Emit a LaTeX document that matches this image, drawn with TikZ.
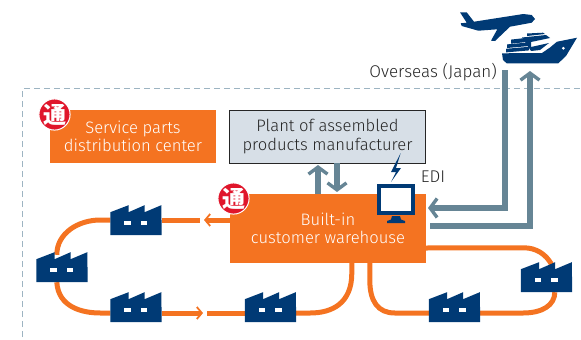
\documentclass[tikz,border=0pt]{standalone}
\usepackage{fontspec}
\setmainfont{Fira Sans Light}
\newfontfamily\cjk{Noto Sans CJK JP}
\usepackage{xcolor}
\usetikzlibrary{positioning,calc,arrows.meta,backgrounds}
\definecolor{orangebox}{HTML}{F47321}
\definecolor{navy}{HTML}{003A75}
\definecolor{steel}{HTML}{668595}
\definecolor{dashblue}{HTML}{9DB4C2}
\definecolor{plantgray}{HTML}{D7DFE7}
\definecolor{stampred}{HTML}{E0162B}
\definecolor{inkgray}{HTML}{262626}
\tikzset{
    orangeline/.style={draw=orangebox, line width=5pt},
    orangearrow/.style={orangeline, -{Straight Barb[length=5pt,width=12pt,line width=1.8pt]}},
    steelarrow/.style={draw=steel, line width=6.5pt, -{Straight Barb[length=7pt,width=19pt,line width=3.4pt]}},
    orangebox/.style={rectangle, fill=orangebox, text=white, align=center, inner sep=0pt, font=\fontsize{16.6}{18.5}\selectfont},
    plantbox/.style={rectangle, fill=plantgray, draw=inkgray, line width=.8pt, text=inkgray, align=center, inner sep=0pt, font=\fontsize{16.6}{18.5}\selectfont},
    labeltext/.style={text=inkgray, inner sep=0pt, font=\fontsize{17}{20}\selectfont},
    stamp/.style={circle, fill=stampred, draw=white, line width=1pt, minimum size=31pt, inner sep=0pt, text=white, font=\cjk\bfseries\fontsize{23}{23}\selectfont},
    factorybox/.style={rectangle, minimum width=51pt, minimum height=30pt, inner sep=0pt}
}
\newcommand{\factory}[2]{%
    \node[factorybox] (#1) at (#2) {};
    \fill[navy] (#1.south west) -- ++(0,-23) -- ++(18.3,-7) -- ++(0,7) -- ++(16,-7) -- ++(0,7) -- ++(16.7,-7) -- (#1.south east) -- cycle;
    \fill[white] ($(#1.south west)+(13.7,-10.3)$) rectangle ++(6.6,-4.4);
    \fill[white] ($(#1.south west)+(30.3,-10.3)$) rectangle ++(6.6,-4.4);
}
\begin{document}
\begin{tikzpicture}[x=1pt,y=-1pt]
\useasboundingbox (0,0) rectangle (581,340);

\node[orangebox, minimum width=166pt, minimum height=53pt] (service) at (133,136.5) {Service parts\\distribution center};
\node[plantbox, minimum width=196pt, minimum height=53pt] (plant) at (327.5,136.5) {Plant of assembled\\products manufacturer};
\node[orangebox, minimum width=196pt, minimum height=69pt] (warehouse) at (328,228.5) {Built-in\\customer warehouse};
\node[stamp] (stampa) at (54.5,114.5) {通};
\node[stamp] (stampb) at (233.5,198.5) {通};
\node[labeltext, anchor=east] (overseas) at (497,72) {Overseas (Japan)};
\node[labeltext] (edi) at (433,177) {EDI};

\factory{fa}{136,220}
\factory{fb}{62,267}
\factory{fc}{136,307}
\factory{fd}{270.5,307}
\factory{fe}{454.5,307}
\factory{ff}{546.5,277}

\coordinate (topgap) at (200,220);
\coordinate (toptip) at (204,220);
\coordinate (lowtip) at (203,313);
\coordinate (lowgap) at (207,313);
\coordinate (portout) at (505,70);
\coordinate (portin) at (530,71);
\coordinate (whin) at (428,208);
\coordinate (whout) at (430,226);

\begin{scope}[on background layer]
\draw[dashblue, line width=1.5pt, dash pattern=on 6pt off 4pt] (22.5,337) -- (22.5,88.5) -- (581,88.5);
%left loop
\draw[orangearrow] (warehouse.west |- toptip) -- (toptip);
\draw[orangeline] (fa.east |- topgap) -- (topgap);
\draw[orangeline] (fa.west |- topgap) -- ++(-10,0) to[out=180,in=90] ($(fb.north west)+(20.5,3)$);
\draw[orangeline] ($(fb.south west)+(20.5,0)$) .. controls ($(fb.south west)+(22,25)$) and ($(fc.west |- lowtip)+(-28,0)$) .. ($(fc.west |- lowtip)+(-10,0)$) -- (fc.west |- lowtip);
\draw[orangearrow] (fc.east |- lowtip) -- (lowtip);
\draw[orangeline] (lowgap) -- (fd.west |- lowgap);
\draw[orangeline] (fd.east |- lowgap) -- ++(14,0) .. controls ($(fd.east |- lowgap)+(36,0)$) and ($(warehouse.south west)+(122,40)$) .. ($(warehouse.south west)+(122,10)$) -- ($(warehouse.south west)+(122,0)$);
%right loop
\draw[orangeline] ($(warehouse.south west)+(140,0)$) -- ++(0,17) .. controls ($(warehouse.south west)+(140,38)$) and ($(fe.west |- lowgap)+(-51,0)$) .. ($(fe.west |- lowgap)+(-34,0)$) -- (fe.west |- lowgap);
\draw[orangeline] (fe.east |- lowgap) -- ++(43,0) .. controls ($(fe.east |- lowgap)+(62,0)$) and ($(ff.south west)+(34,13)$) .. ($(ff.south west)+(34,0)$);
\draw[orangeline] ($(ff.north west)+(31,3)$) .. controls ($(ff.north west)+(25,-8)$) and ($(ff.north west)+(15,-14)$) .. ($(ff.north west)+(3,-14)$) -- ($(warehouse.east)+(0,19.5)$);
\end{scope}

%grey arrows
\draw[steelarrow] (portout) |- (whin);
\draw[steelarrow] (whout) -| (portin);
\draw[steelarrow] (warehouse.north -| 318,0) -- (318,165);
\draw[steelarrow] (plant.south -| 337,0) -- (337,192);

%monitor
\node[rectangle, draw=navy, fill=white, line width=4pt, minimum width=34pt, minimum height=27pt, inner sep=0pt] (screen) at (395.7,199.3) {};
\fill[navy] (392,216) -- (400,216) -- (401,219.5) -- (405,221) -- (405,223) -- (387,223) -- (387,221) -- (391,219.5) -- cycle;
\fill[navy] (400.7,153) -- (391,172) -- (396,172) -- (391,182) -- (401,168) -- (396,168) -- cycle;

%plane
\fill[navy] (460,12.3) -- (466.7,12.3) -- (474,21.7) -- (523.3,14) -- (531.7,15) -- (535,19) -- (531.7,22.7) -- (510,26.7) -- (495,41) -- (491,40.7) -- (497.3,29.3) -- (478.3,30.7) -- (461.7,26) -- (460.7,23.3) -- (466.7,22.7) -- cycle;
%ship
\fill[navy] (502,53.3) -- (542,53) -- (550,47.5) -- (557,41.7) -- (577,37.7) -- (566,56) -- (558.3,63.3) -- (506.7,63.3) -- (503,60) -- cycle;
\fill[white] (563.3,48.3) circle (1.5);
\fill[navy] (506,52.4) -- (529,50.4) -- (529,46.8) -- (506,48.8) -- cycle;
\fill[navy] (507,48) -- (529,46) -- (529,42.4) -- (507,44.4) -- cycle;
\fill[navy] (511,43.7) -- (529,41.7) -- (529,37.6) -- (511,39.6) -- cycle;
\fill[navy] (522,37.5) -- (546,35) -- (550,38) -- (531,42) -- (531,47) -- (549,43) -- (540,50) -- (531,51) -- cycle;
\fill[navy] (527,36) -- (527,33.5) -- (543,32.7) -- (545,34) -- cycle;
\end{tikzpicture}
\end{document}
